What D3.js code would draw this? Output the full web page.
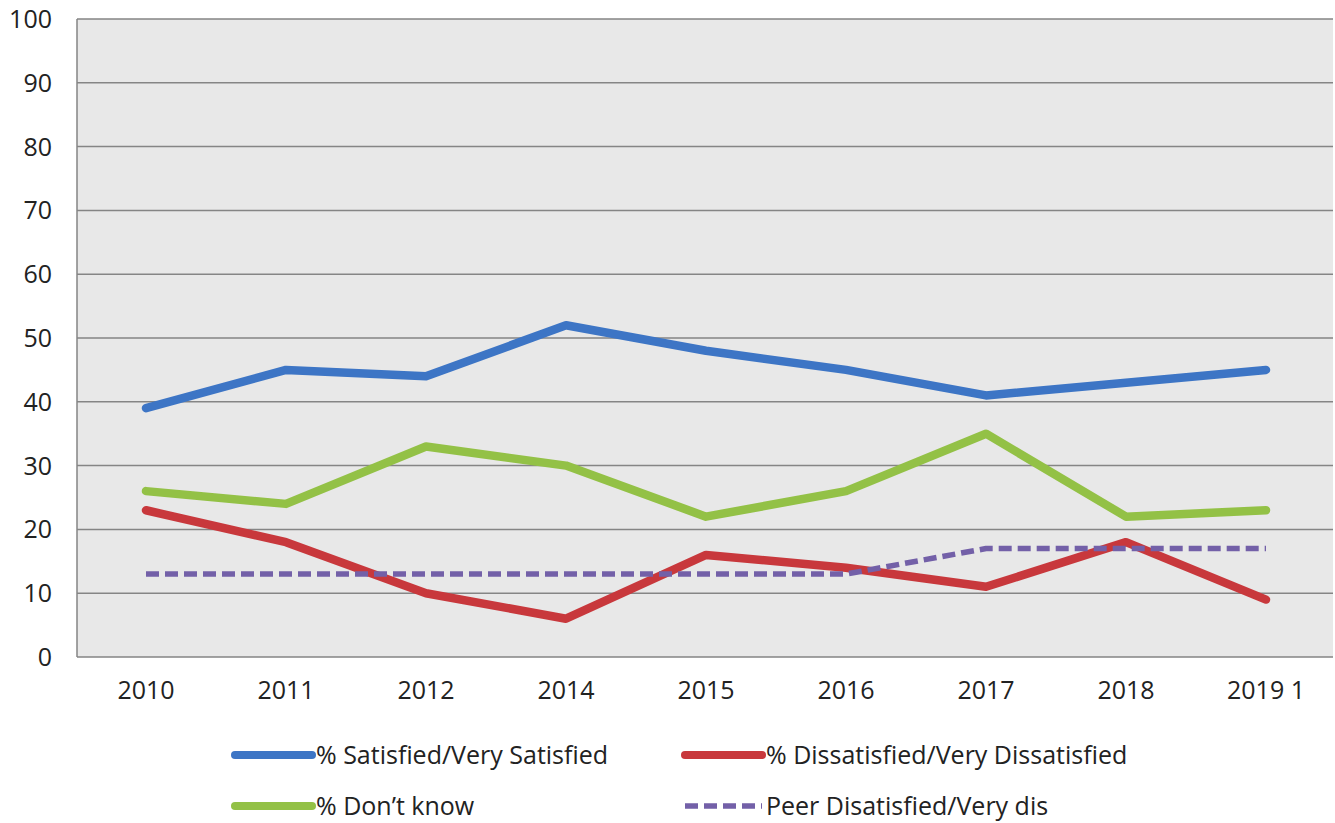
<!DOCTYPE html>
<html>
<head>
<meta charset="utf-8">
<script src="https://cdn.jsdelivr.net/npm/d3@7"></script>
<style>
  html, body { margin: 0; padding: 0; background: #ffffff; }
  svg { display: block; }
  text { font-family: "Open Sans", "DejaVu Sans", sans-serif; fill: #222; }
</style>
</head>
<body>
<svg id="chart" width="1335" height="823"></svg>
<script>
const categories = ["2010", "2011", "2012", "2014", "2015", "2016", "2017", "2018", "2019 1"];
const satisfied   = [39, 45, 44, 52, 48, 45, 41, 43, 45];
const dontKnow    = [26, 24, 33, 30, 22, 26, 35, 22, 23];
const dissatisfied= [23, 18, 10, 6, 16, 14, 11, 18, 9];
const peerDis     = [13, 13, 13, 13, 13, 13, 17, 17, 17];
const yTicks = [0, 10, 20, 30, 40, 50, 60, 70, 80, 90, 100];
const seriesNames = ["% Satisfied/Very Satisfied", "% Dissatisfied/Very Dissatisfied", "% Don\u2019t know", "Peer Disatisfied/Very dis"];

const series = [
  { name: seriesNames[0], values: satisfied,    color: "#3d75c5", width: 8.5, dash: null },
  { name: seriesNames[1], values: dissatisfied, color: "#c8383c", width: 8.5, dash: null },
  { name: seriesNames[2], values: dontKnow,     color: "#93c146", width: 8.5, dash: null },
  { name: seriesNames[3], values: peerDis,      color: "#7360a8", width: 5.5, dash: "13,6" }
];

const svg = d3.select("#chart");
const plotLeft = 77, plotRight = 1333, plotTop = 19, plotBottom = 657;

const x = d3.scaleBand().domain(categories).range([76, 1336]);
const y = d3.scaleLinear().domain([0, 100]).range([plotBottom, plotTop]);

// plot background
svg.append("rect")
  .attr("x", plotLeft).attr("y", plotTop)
  .attr("width", plotRight - plotLeft).attr("height", plotBottom - plotTop)
  .attr("fill", "#e8e8e8");

// gridlines
svg.append("g").selectAll("line").data(yTicks).join("line")
  .attr("x1", plotLeft).attr("x2", plotRight)
  .attr("y1", d => y(d)).attr("y2", d => y(d))
  .attr("stroke", "#858585").attr("stroke-width", 1.5);

// left axis line
svg.append("line")
  .attr("x1", plotLeft).attr("x2", plotLeft)
  .attr("y1", plotTop).attr("y2", plotBottom)
  .attr("stroke", "#858585").attr("stroke-width", 1.5);

// y tick labels
const yAxis = d3.axisLeft(y).tickValues(yTicks).tickSize(0).tickPadding(0);
const gy = svg.append("g").attr("transform", `translate(52,0)`).call(yAxis);
gy.select(".domain").remove();
gy.selectAll("text")
  .attr("font-family", "Open Sans").attr("font-size", 25).attr("fill", "#222")
  .attr("dy", "0.34em");

// x tick labels
const xAxis = d3.axisBottom(x).tickSize(0).tickPadding(0);
const gx = svg.append("g").attr("transform", `translate(0,${plotBottom + 24})`).call(xAxis);
gx.select(".domain").remove();
gx.selectAll("text")
  .attr("font-family", "Open Sans").attr("font-size", 25).attr("fill", "#222")
  .attr("dy", "0.7em");

// lines
const line = d3.line()
  .x((d, i) => x(categories[i]) + x.bandwidth() / 2)
  .y(d => y(d));

series.forEach(s => {
  svg.append("path")
    .datum(s.values)
    .attr("d", line)
    .attr("fill", "none")
    .attr("stroke", s.color)
    .attr("stroke-width", s.width)
    .attr("stroke-linejoin", "round")
    .attr("stroke-linecap", s.dash ? "butt" : "round")
    .attr("stroke-dasharray", s.dash);
});

// legend
const legendPos = [
  { x: 235, y: 755 }, { x: 685, y: 755 },
  { x: 235, y: 806 }, { x: 685, y: 806 }
];
series.forEach((s, i) => {
  const p = legendPos[i];
  const g = svg.append("g").attr("transform", `translate(${p.x},${p.y})`);
  g.append("line")
    .attr("x1", 0).attr("x2", 77).attr("y1", 0).attr("y2", 0)
    .attr("stroke", s.color)
    .attr("stroke-width", s.dash ? 5.5 : 8)
    .attr("stroke-linecap", s.dash ? "butt" : "round")
    .attr("stroke-dasharray", s.dash);
  g.append("text")
    .attr("x", 81).attr("y", 0).attr("dy", "0.35em")
    .attr("font-size", 25)
    .text(s.name);
});
</script>
</body>
</html>
